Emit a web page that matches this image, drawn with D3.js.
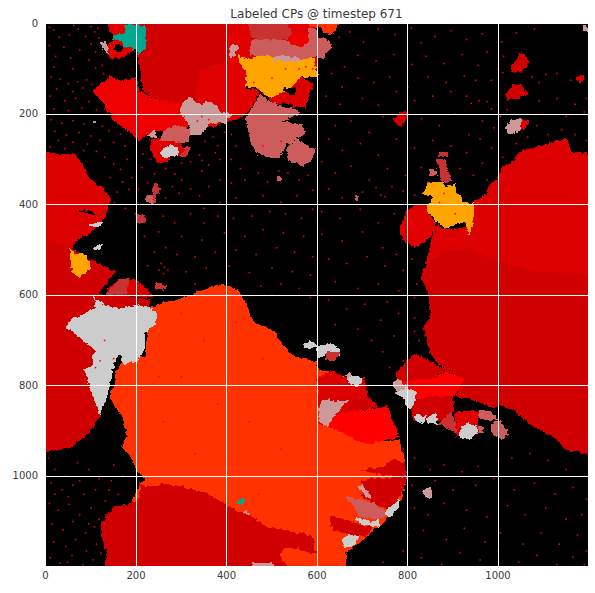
<!DOCTYPE html>
<html lang="en">
<head>
  <meta charset="UTF-8">
  <title>Labeled CPs</title>
  <style>
    html, body { margin: 0; background: #fff; }
    text { font-family: "DejaVu Sans", sans-serif; fill: #3b3b3b; }
  </style>
</head>
<body>
  <svg width="595" height="593"></svg>
  <script src="https://cdn.jsdelivr.net/npm/d3@7"></script>
  <script>
    var titleText = 'Labeled CPs @ timestep 671'
    var xTicks = [0, 200, 400, 600, 800, 1000]
    var yTicks = [0, 200, 400, 600, 800, 1000]

    // label classes used by the regions below
    var labelClasses = ['red0', 'red1', 'red2', 'red3', 'red4', 'red5', 'fire', 'amber', 'teal', 'grey', 'rose', 'indian', 'brick']

    // cold pool outlines in grid cells, listed in paint order
    var cpRegions = [
      ['red2', [[-10,283],[31,290],[68,290],[82,312],[97,342],[126,364],[145,386],[138,415],[126,441],[97,467],[75,475],[60,497],[104,526],[156,548],[134,570],[119,600],[233,611],[229,630],[171,630],[112,725],[123,869],[97,906],[60,936],[31,943],[-10,950]]],
      ['red1', [[-10,475],[30,490],[60,497],[104,526],[150,556],[130,585],[119,600],[233,611],[229,630],[171,630],[112,725],[123,869],[97,906],[60,936],[31,943],[-10,950]]],
      ['red2', [[134,593],[163,567],[200,567],[215,578],[240,605],[134,606]]],
      ['brick', [[134,600],[163,567],[189,563],[178,602]]],
      ['fire', [[229,630],[258,618],[294,611],[332,596],[354,589],[380,578],[410,582],[435,600],[457,648],[465,663],[502,677],[534,722],[553,737],[600,748],[606,766],[635,770],[602,785],[622,891],[658,906],[702,928],[783,921],[794,958],[798,1002],[790,1047],[761,1091],[717,1131],[683,1157],[665,1172],[664,1210],[130,1210],[207,1024],[222,1010],[203,991],[193,965],[171,936],[182,913],[171,869],[145,832],[157,773],[171,744],[222,737]]],
      ['red1', [[211,1010],[207,1024],[251,1024],[258,1017],[303,1024],[355,1039],[395,1061],[428,1080],[457,1091],[487,1113],[527,1120],[597,1139],[593,1157],[531,1161],[518,1176],[542,1210],[132,1210],[137,1172],[123,1128],[123,1105],[152,1069],[200,1061],[211,1039]]],
      ['rose', [[457,1194],[505,1194],[508,1210],[457,1210]]],
      ['rose', [[436,1083],[444,1073],[453,1085]]],
      ['teal', [[424,1061],[435,1050],[442,1050],[437,1065]]],

      ['red2', [[848,600],[852,648],[837,670],[845,714],[856,737],[885,767],[922,788],[915,814],[908,825],[960,836],[986,851],[1004,847],[1034,855],[1078,891],[1122,914],[1152,943],[1210,954],[1210,290],[1163,283],[1153,253],[1093,272],[1049,283],[1034,305],[1008,323],[1001,342],[982,356],[975,379],[949,393],[949,430],[931,452],[886,456],[864,445],[853,482],[838,548],[831,563]]],
      ['red1', [[831,563],[838,540],[880,505],[931,498],[1004,527],[1078,549],[1210,557],[1210,954],[1152,943],[1122,914],[1078,891],[1034,855],[1004,847],[986,851],[960,836],[908,825],[915,814],[922,788],[885,767],[856,737],[845,714],[837,670],[852,648],[848,600]]],
      ['red3', [[783,456],[799,415],[816,401],[846,401],[846,415],[864,445],[853,474],[816,497],[794,482]]],
      ['amber', [[836,379],[846,353],[879,351],[884,360],[908,356],[913,379],[923,393],[942,401],[949,393],[949,430],[938,467],[927,441],[912,441],[886,456],[864,438],[846,415],[846,401],[860,382]]],
      ['brick', [[866,301],[886,301],[890,327],[901,349],[875,353],[872,327]]],
      ['brick', [[870,286],[890,286],[890,295],[870,295]]],
      ['indian', [[848,323],[863,323],[863,338],[848,338]]],

      ['red3', [[140,-10],[200,-10],[200,58],[171,76],[141,80],[134,54],[156,32],[140,13]]],
      ['rose', [[121,43],[134,39],[141,69],[130,58]]],
      ['red4', [[104,150],[145,117],[163,128],[200,120],[207,150],[244,168],[303,179],[318,224],[310,242],[237,238],[207,262],[185,238],[150,216],[143,200],[126,173]]],
      ['red1', [[200,-10],[397,-10],[397,91],[340,105],[332,179],[303,179],[244,168],[215,150],[211,105],[204,76]]],
      ['red0', [[369,94],[397,91],[397,179],[332,179],[340,120]]],
      ['red3', [[397,-10],[600,-10],[600,110],[457,120],[442,142],[475,150],[457,187],[428,212],[398,220],[370,230],[340,230],[318,224],[303,179],[332,179],[340,105],[397,91]]],
      ['rose', [[298,190],[317,161],[332,176],[347,179],[365,172],[380,183],[387,198],[413,201],[398,220],[376,220],[358,227],[347,246],[321,249],[321,224],[299,201]]],
      ['red3', [[233,257],[270,252],[300,265],[310,285],[302,295],[280,295],[270,310],[250,310],[235,285]]],
      ['indian', [[276,231],[295,224],[321,235],[318,264],[296,264],[276,260],[255,260],[259,242]]],
      ['rose', [[226,249],[241,232],[249,255]]],
      ['grey', [[253,286],[277,268],[292,275],[295,294],[270,297],[259,294]]],
      ['brick', [[296,294],[310,275],[321,275],[314,297]]],
      ['teal', [[172,2],[192,2],[222,8],[226,54],[207,69],[200,58],[176,50],[163,38],[148,35],[152,26],[178,20]]],
      ['rose', [[406,61],[414,46],[426,50],[421,72],[407,76]]],

      ['brick', [[444,-10],[531,-10],[545,21],[538,35],[494,39],[457,32]]],
      ['indian', [[453,54],[457,35],[516,38],[560,35],[590,76],[560,85],[453,70]]],
      ['red3', [[531,-10],[571,-10],[590,24],[593,61],[567,54],[538,43],[545,21]]],
      ['red4', [[545,21],[575,20],[590,30],[593,61],[567,54],[538,43]]],
      ['fire', [[576,-10],[658,-10],[635,26],[617,21],[606,10],[585,8]]],
      ['indian', [[580,10],[600,14],[600,54],[584,50]]],
      ['indian', [[595,32],[613,32],[635,46],[628,61],[617,65],[617,80],[602,76],[584,76],[562,58]]],
      ['amber', [[426,69],[442,80],[487,70],[505,76],[505,85],[560,83],[593,76],[604,120],[567,120],[534,153],[494,165],[475,146],[442,139],[446,113],[431,91]]],
      ['rose', [[505,72],[560,75],[565,85],[505,85]]],
      ['red2', [[494,165],[534,153],[567,120],[593,135],[582,172],[575,187],[534,183],[501,176]]],
      ['indian', [[442,209],[448,235],[457,272],[472,290],[516,299],[531,272],[552,259],[578,242],[567,224],[527,216],[567,198],[552,190],[501,176],[475,157],[457,190]]],
      ['indian', [[534,275],[556,257],[582,272],[598,279],[593,297],[571,318],[538,301]]],

      ['red1', [[1049,65],[1063,72],[1069,87],[1056,109],[1030,109],[1027,94],[1041,87]]],
      ['red1', [[1019,157],[1034,135],[1052,134],[1069,157],[1049,166],[1022,170]]],
      ['red3', [[1173,120],[1185,113],[1193,124],[1181,135]]],
      ['rose', [[1189,6],[1198,6],[1198,17],[1189,17]]],
      ['red1', [[768,215],[786,194],[804,201],[786,231]]],
      ['red3', [[1052,212],[1070,218],[1065,228],[1052,238]]],
      ['rose', [[1018,224],[1034,215],[1052,212],[1052,238],[1022,246]]],

      ['grey', [[44,674],[56,654],[82,644],[112,630],[108,604],[134,626],[171,630],[207,622],[237,630],[248,644],[244,666],[222,685],[222,714],[207,744],[174,755],[163,729],[154,751],[141,810],[134,832],[123,869],[112,844],[101,810],[95,784],[86,766],[108,755],[101,737],[112,725],[82,700],[60,681]]],
      ['amber', [[54,500],[68,508],[86,508],[97,526],[104,541],[90,552],[75,563],[60,552],[57,530]]],
      ['grey', [[97,445],[126,438],[123,449],[104,452]]],
      ['grey', [[104,497],[126,486],[126,497],[115,505]]],
      ['brick', [[222,382],[237,379],[241,353],[255,364],[241,397],[224,397]]],
      ['indian', [[224,380],[238,382],[238,397],[224,397]]],
      ['indian', [[512,340],[523,340],[523,349],[512,349]]],
      ['brick', [[204,425],[222,425],[222,445],[204,445]]],
      ['brick', [[244,572],[270,580],[262,590],[246,590]]],
      ['rose', [[104,215],[112,215],[112,224],[104,224]]],
      ['indian', [[683,379],[694,385],[690,394]]],

      ['red1', [[776,773],[816,729],[886,767],[864,785],[820,792],[779,792]]],
      ['red5', [[779,792],[864,785],[886,770],[927,787],[916,810],[905,825],[864,829],[820,829],[798,818]]],
      ['red1', [[800,835],[857,826],[901,825],[905,855],[886,880],[864,880],[815,880]]],
      ['rose', [[768,796],[779,784],[798,803],[776,818]]],
      ['grey', [[776,818],[798,803],[820,814],[816,840],[805,855],[794,832]]],
      ['grey', [[818,866],[842,869],[838,884],[820,880]]],
      ['grey', [[844,873],[864,862],[868,888],[846,884]]],
      ['brick', [[868,888],[897,858],[910,888],[910,906],[886,895]]],
      ['red3', [[905,858],[960,858],[956,891],[956,906],[907,914],[910,885]]],
      ['indian', [[960,856],[986,856],[1001,877],[975,877],[960,877]]],
      ['indian', [[956,891],[968,891],[968,906],[956,906]]],
      ['indian', [[984,884],[1008,880],[1026,910],[1008,921],[990,910]]],
      ['grey', [[920,892],[931,884],[953,888],[956,906],[945,917],[923,917],[916,910]]],

      ['grey', [[573,707],[587,703],[602,714],[631,708],[652,718],[652,733],[621,725],[617,740],[602,740],[599,718],[584,720],[573,718]]],
      ['brick', [[621,725],[653,729],[639,748],[622,745]]],
      ['red2', [[602,785],[635,766],[656,781],[706,785],[713,825],[739,847],[680,858],[643,866],[622,891],[606,884]]],
      ['red5', [[643,866],[680,858],[757,847],[783,914],[709,932],[658,906],[622,891]]],
      ['red1', [[665,843],[713,825],[739,847],[680,858]]],
      ['rose', [[604,855],[612,832],[660,836],[678,832],[660,843],[635,877],[622,893],[606,880]]],
      ['rose', [[658,779],[676,770],[683,785]]],
      ['grey', [[669,785],[683,779],[700,782],[700,796],[691,804],[672,796]]],

      ['red1', [[702,987],[750,980],[769,962],[795,973],[798,1002],[746,1000]]],
      ['red1', [[698,1010],[798,1002],[790,1039],[761,1076],[724,1061],[702,1047]]],
      ['rose', [[691,1024],[702,1017],[724,1054],[706,1043]]],
      ['indian', [[661,1047],[702,1054],[728,1061],[757,1083],[739,1098],[691,1091],[684,1069]]],
      ['grey', [[685,1091],[720,1102],[739,1098],[739,1113],[709,1109],[687,1102]]],
      ['grey', [[750,1083],[783,1050],[783,1069],[761,1091]]],
      ['red1', [[628,1091],[642,1091],[687,1105],[724,1114],[709,1135],[669,1131],[635,1120]]],
      ['grey', [[654,1146],[669,1131],[695,1134],[680,1157],[661,1157]]],
      ['rose', [[833,1035],[838,1028],[855,1026],[855,1050],[838,1048]]],
      ['red1', [[562,1124],[597,1139],[598,1172],[562,1165]]]
    ]

    // holes that stay black inside the regions
    var cpHoles = [
      [[527,142],[556,145],[552,157],[530,155]],
      [[522,176],[548,180],[545,188],[525,186]],
      [[71,412],[108,417],[108,424],[86,419]],
      [[155,46],[172,52],[168,66],[150,60]],
      [[204,105],[212,108],[214,150],[208,148]],
      [[960,876],[975,880],[990,900],[975,905]]
    ]

    // isolated single cell labels
    var speckles = [
      [8,8],[18,14],[62,4],[72,12],[100,6],[115,10],[108,18],[30,30],[52,25],[88,28],[118,32],[100,44],[8,48],[40,52],[75,58],[110,62],[22,72],[55,76],[95,80],[125,92],[18,96],[60,100],[110,98],[128,110],[12,118],[32,122],[50,132],[70,128],[90,124],[102,134],[24,144],[60,150],[82,142],[10,160],[42,170],[66,165],[95,172],[18,188],[50,192],[80,186],[112,190],[130,188],
      [12,212],[36,220],[60,214],[85,222],[125,226],[20,238],[46,246],[74,240],[100,248],[140,236],[165,244],[28,258],[60,262],[92,266],[120,258],[150,262],[175,270],[10,272],[42,276],[84,280],[112,282],[130,295],[150,310],[180,300],[165,322],[142,340],[170,350],[190,340],[158,372],[184,366],[152,395],[176,408],[198,420],
      [215,288],[232,300],[212,318],[240,332],[225,352],[205,366],[265,320],[285,332],[300,308],[320,305],[340,290],[352,260],[370,250],[380,270],[395,240],[410,245],[420,270],[345,302],[360,312],[385,300],[375,285],[410,300],[430,320],[345,325],[300,345],[280,360],[265,385],[295,375],[320,365],[340,380],[360,360],[385,345],[410,352],[440,345],[470,330],[490,350],[515,325],[535,330],[560,345],[580,335],[590,368],[555,380],[520,395],[480,380],[450,400],[420,385],[385,395],[350,408],
      [220,430],[260,425],[285,440],[320,420],[350,440],[380,425],[415,430],[455,425],[495,415],[530,420],[565,430],[590,410],[218,470],[250,460],[300,470],[345,478],[395,462],[440,470],[480,455],[525,462],[570,470],[240,505],[265,495],[290,510],[330,515],[375,505],[420,500],[465,510],[510,495],[550,505],[590,515],[225,535],[255,530],[250,545],[260,552],[270,545],[262,538],[310,548],[355,540],[405,535],[450,550],[500,540],[545,548],[585,555],[330,575],[475,580],[520,575],[560,585],[500,600],[585,605],
      [618,6],[648,30],[672,18],[702,40],[735,12],[772,24],[808,10],[830,42],[860,28],[895,15],[930,35],[965,22],[1008,40],[1040,20],[1080,12],[1012,72],[1000,100],[975,62],[955,92],[920,68],[880,88],[840,72],[810,90],[770,68],[730,82],[690,70],[660,95],[632,110],[655,140],[690,120],[725,130],[760,118],[800,140],[845,118],[885,130],[925,115],[950,125],[985,125],[1010,108],[1075,118],[1105,112],[1130,110],[1160,125],[1200,140],[1195,165],[1090,170],
      [620,160],[650,178],[700,165],[735,180],[775,150],[815,170],[855,160],[895,150],[930,160],[940,176],[958,170],[975,172],[985,188],[1000,180],[1020,190],[1090,130],[1130,165],[1170,178],[1100,200],[1150,205],[1190,195],[610,200],[640,225],[675,215],[715,240],[745,205],[830,210],[870,225],[905,200],[935,245],[965,215],[990,230],[1005,205],[1085,225],[1110,245],[1140,235],[1170,245],[1195,258],[625,255],[655,280],[695,265],[735,290],[775,255],[815,275],[855,258],[895,270],[930,285],[960,255],[985,275],[1010,295],[1040,265],[1065,250],
      [610,305],[640,330],[675,315],[715,345],[755,320],[795,335],[830,318],[845,350],[915,320],[945,335],[965,308],[975,345],[625,365],[655,385],[700,372],[730,362],[740,378],[750,382],[765,360],[790,370],[815,378],[610,415],[650,430],[695,410],[735,440],[770,420],[610,465],[655,480],[700,460],[745,495],[775,510],[880,490],[625,520],[665,530],[710,515],[750,535],[790,545],[810,520],[820,575],[640,570],[690,585],[735,575],[780,590],[815,605],[625,610],[665,630],[705,620],[755,615],[780,640],[815,650],[640,665],[690,675],[740,655],[770,690],[800,705],[815,680],[720,700],[745,725],[790,745],[760,760],[825,700],[830,735],
      [790,940],[815,960],[850,985],[880,975],[920,990],[955,978],[1000,965],[1030,960],[1070,950],[1110,965],[1150,985],[1190,1000],[810,1020],[860,1010],[900,1030],[950,1020],[990,1005],[1035,1030],[1080,1015],[1125,1040],[1165,1025],[1195,1050],[815,1070],[845,1085],[880,1060],[930,1075],[975,1090],[1020,1065],[1060,1085],[1105,1070],[1150,1095],[1185,1085],[800,1130],[835,1120],[885,1140],[925,1115],[970,1145],[1005,1125],[1055,1150],[1095,1125],[1135,1150],[1175,1130],[1195,1165],[745,1190],[790,1165],[830,1180],[875,1195],[915,1170],[960,1185],[1000,1165],[1045,1190],[1085,1175],[1130,1195],[1165,1178],[1190,1195],
      [6,960],[20,985],[44,1000],[70,970],[95,985],[118,1005],[150,975],[12,1015],[36,1030],[60,1020],[85,1040],[110,1030],[132,1055],[8,1060],[28,1075],[52,1062],[75,1085],[100,1070],[118,1095],[14,1105],[38,1118],[60,1100],[88,1125],[108,1112],[18,1145],[44,1155],[66,1140],[90,1165],[112,1150],[10,1180],[32,1192],[58,1175],[82,1195],[104,1185],[122,1170],[128,1140],[75,1010],[145,1010],[170,1000],[160,1040],[140,1030],[20,1040],[50,1045],[95,1105],[48,1190],
      [300,640],[350,700],[420,660],[480,740],[540,800],[300,780],[380,840],[450,880],[520,940],[580,1000],[260,880],[330,950],[400,1000],[470,1040],[250,780],[600,900],
      [460,130],[470,145],[500,120],[530,100],[560,100],[575,95],[590,100],[480,155],[335,215],[345,205],[360,212],[520,260],[480,270],[110,760],[120,745],[150,740],[130,700],[880,375],[870,395],[905,420]
    ]

    var svg = d3.select('svg')
    var margin = { top: 23, right: 7, bottom: 27, left: 45 }
    var width = +svg.attr('width') - margin.left - margin.right
    var height = +svg.attr('height') - margin.top - margin.bottom

    var x = d3.scaleLinear().domain([0, 1200]).range([0, width])
    var y = d3.scaleLinear().domain([0, 1200]).range([0, height])
    var color = d3.scaleOrdinal()
      .domain(labelClasses)
      .range(['#c80e0e', '#d00000', '#dc0000', '#e10000', '#ee0000', '#ff0000', '#ff3000', '#ffa500', '#00a88f', '#cccccc', '#cc9999', '#cd5c5c', '#c83232'])

    var outline = d3.line()
      .x(function(d) { return x(d[0]) })
      .y(function(d) { return y(d[1]) })

    var defs = svg.append('defs')
    defs.append('clipPath').attr('id', 'plot-clip')
      .append('rect').attr('width', width).attr('height', height)

    // roughens the region edges so they look like a labelled raster
    var rough = defs.append('filter').attr('id', 'rough')
      .attr('x', '-5%').attr('y', '-5%').attr('width', '110%').attr('height', '110%')
    rough.append('feTurbulence')
      .attr('type', 'fractalNoise').attr('baseFrequency', 0.22)
      .attr('numOctaves', 2).attr('seed', 4).attr('result', 'noise')
    rough.append('feDisplacementMap')
      .attr('in', 'SourceGraphic').attr('in2', 'noise')
      .attr('scale', 5).attr('xChannelSelector', 'R').attr('yChannelSelector', 'G')

    var g = svg.append('g')
      .attr('transform', 'translate(' + margin.left + ',' + margin.top + ')')

    var plot = g.append('g').attr('clip-path', 'url(#plot-clip)')

    plot.append('rect').attr('width', width).attr('height', height).attr('fill', '#000')

    var field = plot.append('g').attr('filter', 'url(#rough)').attr('shape-rendering', 'crispEdges')

    field.selectAll('path.cp')
      .data(cpRegions)
      .enter()
      .append('path')
      .attr('class', 'cp')
      .attr('fill', function(d) { return color(d[0]) })
      .attr('d', function(d) { return outline(d[1]) + 'Z' })

    field.selectAll('path.hole')
      .data(cpHoles)
      .enter()
      .append('path')
      .attr('class', 'hole')
      .attr('fill', '#000')
      .attr('d', function(d) { return outline(d) + 'Z' })

    plot.selectAll('rect.speck')
      .data(speckles)
      .enter()
      .append('rect')
      .attr('class', 'speck')
      .attr('x', function(d) { return x(d[0]) })
      .attr('y', function(d) { return y(d[1]) })
      .attr('width', 1.5)
      .attr('height', 1.5)
      .attr('fill', '#ff0000')

    // seaborn style axes: white grid on top, no tick marks
    var xAxis = d3.axisBottom(x).tickValues(xTicks).tickFormat(d3.format('d')).tickSize(-height).tickPadding(6)
    var yAxis = d3.axisLeft(y).tickValues(yTicks).tickFormat(d3.format('d')).tickSize(-width).tickPadding(7)

    g.append('g').attr('transform', 'translate(0,' + height + ')').call(xAxis)
    g.append('g').call(yAxis)

    g.selectAll('.domain').remove()
    g.selectAll('.tick line').attr('stroke', '#fff').attr('stroke-width', 1).attr('shape-rendering', 'crispEdges')
    g.selectAll('.tick text').attr('font-size', 10)

    svg.append('text')
      .attr('x', margin.left + width / 2)
      .attr('y', 18)
      .attr('text-anchor', 'middle')
      .attr('font-size', 12)
      .text(titleText)
  </script>
</body>
</html>
